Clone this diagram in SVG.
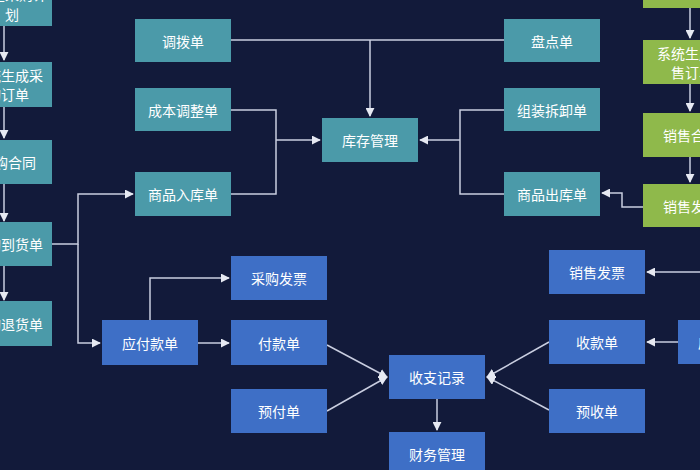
<svg xmlns="http://www.w3.org/2000/svg" width="700" height="470" viewBox="0 0 700 470">
<style>
.t{fill:#4b9aa9}.g{fill:#8fb94b}.b{fill:#3e6fc6}
text{font-family:"Noto Sans CJK SC","Noto Sans",sans-serif;font-size:14px;fill:#ffffff;text-anchor:middle;dominant-baseline:central}
.c path{fill:none;stroke:#c9cee0;stroke-width:1.5}
</style>
<defs><marker id="a" viewBox="0 0 10 10" refX="9" refY="5" markerWidth="6" markerHeight="6" orient="auto"><path d="M0,0L10,5L0,10z" fill="#e6e9f2"/></marker></defs>
<rect width="700" height="470" fill="#121a3a"/>
<g class="c">
<path d="M231,40H504M370,40V116" marker-end="url(#a)"/>
<path d="M231,110H276V194H231M276,140H320" marker-end="url(#a)"/>
<path d="M504,110H460V194H504M460,140H420" marker-end="url(#a)"/>
<path d="M4,26V60" marker-end="url(#a)"/>
<path d="M4,107V138" marker-end="url(#a)"/>
<path d="M4,184V221" marker-end="url(#a)"/>
<path d="M4,266V300" marker-end="url(#a)"/>
<path d="M52,244H78V194H133" marker-end="url(#a)"/>
<path d="M78,244V343H100" marker-end="url(#a)"/>
<path d="M690,8V38" marker-end="url(#a)"/>
<path d="M690,84V111" marker-end="url(#a)"/>
<path d="M690,157V182" marker-end="url(#a)"/>
<path d="M643,207H622V193H602" marker-end="url(#a)"/>
<path d="M150,320V278H229" marker-end="url(#a)"/>
<path d="M198,343H229" marker-end="url(#a)"/>
<path d="M327,345L387,377" marker-end="url(#a)"/>
<path d="M327,411L387,377" marker-end="url(#a)"/>
<path d="M549,342L487,377" marker-end="url(#a)"/>
<path d="M549,410L487,377" marker-end="url(#a)"/>
<path d="M437,399V430" marker-end="url(#a)"/>
<path d="M678,342H647" marker-end="url(#a)"/>
<path d="M700,272H647" marker-end="url(#a)"/>
</g>
<g id="n1"><rect class="t" x="135" y="19" width="96" height="43"/><text x="183" y="40.5">调拨单</text></g>
<g id="n2"><rect class="t" x="135" y="88" width="96" height="43"/><text x="183" y="109.5">成本调整单</text></g>
<g id="n3"><rect class="t" x="135" y="172" width="96" height="44"/><text x="183" y="194">商品入库单</text></g>
<g id="n4"><rect class="t" x="504" y="19" width="96" height="43"/><text x="552" y="40.5">盘点单</text></g>
<g id="n5"><rect class="t" x="504" y="88" width="96" height="43"/><text x="552" y="109.5">组装拆卸单</text></g>
<g id="n6"><rect class="t" x="504" y="172" width="96" height="44"/><text x="552" y="194">商品出库单</text></g>
<g id="n7"><rect class="t" x="322" y="118" width="96" height="44"/><text x="370" y="140">库存管理</text></g>
<g id="l1"><rect class="t" x="-45" y="-20" width="97" height="46"/><text x="12" y="-6">制定采购计</text><text x="12" y="14">划</text></g>
<g id="l2"><rect class="t" x="-45" y="62" width="97" height="45"/><text x="8" y="75">系统生成采</text><text x="8" y="94">购订单</text></g>
<g id="l3"><rect class="t" x="-45" y="140" width="97" height="44"/><text x="8" y="162">采购合同</text></g>
<g id="l4"><rect class="t" x="-45" y="222" width="97" height="44"/><text x="8" y="244">采购到货单</text></g>
<g id="l5"><rect class="t" x="-45" y="301" width="97" height="45"/><text x="8" y="323.5">采购退货单</text></g>
<g id="r1"><rect class="g" x="643" y="-30" width="100" height="38"/><text x="692" y="-10">销售需求</text></g>
<g id="r2"><rect class="g" x="643" y="40" width="100" height="44"/><text x="692" y="53">系统生成销</text><text x="692" y="72">售订单</text></g>
<g id="r3"><rect class="g" x="643" y="113" width="100" height="44"/><text x="691" y="135">销售合同</text></g>
<g id="r4"><rect class="g" x="643" y="184" width="100" height="43"/><text x="698" y="205.5">销售发货单</text></g>
<g id="b1"><rect class="b" x="231" y="256" width="96" height="44"/><text x="279" y="278">采购发票</text></g>
<g id="b2"><rect class="b" x="102" y="320" width="96" height="45"/><text x="150" y="342.5">应付款单</text></g>
<g id="b3"><rect class="b" x="231" y="320" width="96" height="45"/><text x="279" y="342.5">付款单</text></g>
<g id="b4"><rect class="b" x="231" y="389" width="96" height="44"/><text x="279" y="411">预付单</text></g>
<g id="b5"><rect class="b" x="389" y="355" width="96" height="44"/><text x="437" y="377">收支记录</text></g>
<g id="b6"><rect class="b" x="389" y="432" width="96" height="44"/><text x="437" y="454">财务管理</text></g>
<g id="b7"><rect class="b" x="549" y="250" width="96" height="44"/><text x="597" y="272">销售发票</text></g>
<g id="b8"><rect class="b" x="549" y="320" width="96" height="44"/><text x="597" y="342">收款单</text></g>
<g id="b9"><rect class="b" x="549" y="389" width="96" height="44"/><text x="597" y="411">预收单</text></g>
<g id="b10"><rect class="b" x="678" y="320" width="96" height="44"/><text x="726" y="342">应收款单</text></g>
</svg>
